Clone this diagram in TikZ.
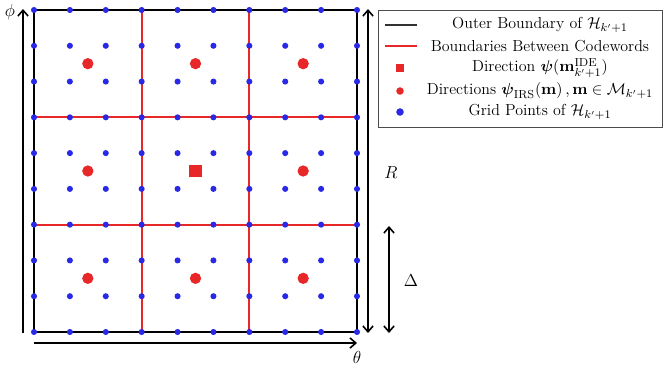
\documentclass[tikz,border=0pt]{standalone}
\usepackage{amsmath,amssymb}
\usetikzlibrary{arrows.meta}
\definecolor{gridblue}{RGB}{40,40,230}
\definecolor{cwred}{RGB}{232,40,40}
\tikzset{
  outer/.style={line width=1.4pt,black},
  cwline/.style={line width=1.4pt,draw=cwred},
  axisarrow/.style={line width=1.1pt,-{Straight Barb[length=4pt,width=7pt]}},
  dblarrow/.style={line width=1.1pt,{Straight Barb[length=4pt,width=7pt]}-{Straight Barb[length=4pt,width=7pt]}},
  gpt/.style={circle,fill=gridblue,inner sep=0pt,minimum size=4.2pt},
  rpt/.style={circle,fill=cwred,inner sep=0pt,minimum size=7.8pt},
  rsq/.style={rectangle,fill=cwred,inner sep=0pt,minimum size=8.6pt},
  lgtxt/.style={anchor=center,inner sep=0pt,font=\fontsize{11}{13}\selectfont},
  axlbl/.style={font=\fontsize{12.5}{14}\selectfont},
}
\begin{document}
\begin{tikzpicture}[x=0.69pt,y=-0.69pt]
\useasboundingbox (0,0) rectangle (665,373);
% corners
\coordinate (TL) at (34,10);
\coordinate (BR) at (357,332);
% codeword boundaries
\foreach \i in {3,6} {
  \draw[cwline] ({34+\i*323/9},10) -- ({34+\i*323/9},332);
  \draw[cwline] (34,{10+\i*322/9}) -- (357,{10+\i*322/9});
}
% outer boundary
\draw[outer] (TL) rectangle (BR);
% grid points
\foreach \i in {0,...,9} {
  \foreach \j in {0,...,9} {
    \node[gpt] (g\i-\j) at ({34+\i*323/9},{10+\j*322/9}) {};
  }
}
% codeword directions
\foreach \i/\j in {0/0,1/0,2/0,0/1,2/1,0/2,1/2,2/2} {
  \node[rpt] (c\i\j) at ({34+(3*\i+1.5)*323/9},{10+(3*\j+1.5)*322/9}) {};
}
\node[rsq] (c11) at ({34+4.5*323/9},{10+4.5*322/9}) {};
% axes
\coordinate (phiS) at (23,333);
\coordinate (phiE) at (23,9);
\draw[axisarrow] (phiS) -- (phiE);
\node[axlbl] (phi) at (10,12) {$\phi$};
\coordinate (thS) at (34,343);
\coordinate (thE) at (357,343);
\draw[axisarrow] (thS) -- (thE);
\node[axlbl] (theta) at (357,357) {$\theta$};
% R and Delta
\coordinate (RT) at (368,9);
\coordinate (RB) at (368,333);
\draw[dblarrow] (RT) -- (RB);
\node[axlbl] (R) at (391,173) {$R$};
\coordinate (DT) at (389,226);
\coordinate (DB) at (389,333);
\draw[dblarrow] (DT) -- (DB);
\node[axlbl] (Delta) at (411,281) {$\Delta$};
% legend
\draw[line width=0.6pt,draw=black!70] (378,10) rectangle (662,127);
\draw[line width=0.8pt,black!80] (385,25) -- (417,25);
\node[lgtxt] (l1) at (540,25) {Outer Boundary of $\mathcal{H}_{k'+1}$};
\draw[line width=0.8pt,cwred] (385,46) -- (417,46);
\node[lgtxt] (l2) at (540,46) {Boundaries Between Codewords};
\node[rectangle,fill=cwred,inner sep=0pt,minimum size=5.5pt] (s3) at (400,68) {};
\node[lgtxt] (l3) at (540,68) {Direction $\boldsymbol{\psi}(\mathbf{m}_{k'+1}^{\mathrm{IDE}})$};
\node[circle,fill=cwred,inner sep=0pt,minimum size=5.2pt] (s4) at (400,91) {};
\node[lgtxt] (l4) at (540,91) {Directions $\boldsymbol{\psi}_{\mathrm{IRS}}(\mathbf{m})\,,\mathbf{m}\in\mathcal{M}_{k'+1}$};
\node[circle,fill=gridblue,inner sep=0pt,minimum size=5.2pt] (s5) at (400,112) {};
\node[lgtxt] (l5) at (540,112) {Grid Points of $\mathcal{H}_{k'+1}$};
\end{tikzpicture}
\end{document}
